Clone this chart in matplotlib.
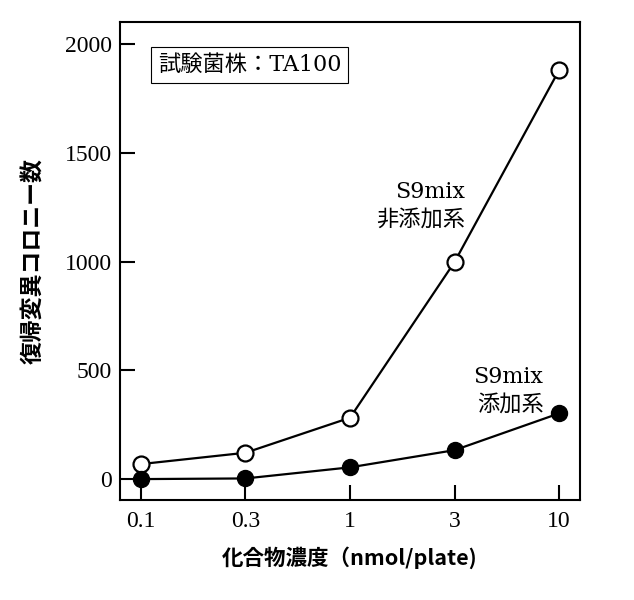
import matplotlib
matplotlib.use("Agg")
import matplotlib.pyplot as plt

# データ
concentrations = ["0.1", "0.3", "1", "3", "10"]
without_s9 = [69, 121, 282, 998, 1880]
with_s9 = [0, 3, 54, 133, 302]
yticks = [0, 500, 1000, 1500, 2000]

serif = ["Liberation Serif", "Noto Sans CJK JP"]
wide_serif = ["DejaVu Serif", "Noto Sans CJK JP"]
gothic = ["Noto Sans CJK JP", "DejaVu Sans"]

fig = plt.figure(figsize=(6.34, 6.0), dpi=100)
ax = fig.add_axes([0.1893, 0.1667, 0.7256, 0.7967])

x = range(len(concentrations))
ax.plot(x, without_s9, color="black", lw=1.6, marker="o", ms=11.5,
        mfc="white", mec="black", mew=1.6, zorder=3)
ax.plot(x, with_s9, color="black", lw=1.6, marker="o", ms=11.5,
        mfc="black", mec="black", zorder=3)

ax.set_xlim(-0.2, 4.2)
ax.set_ylim(-96, 2101)
ax.set_xticks(list(x))
ax.set_xticklabels(concentrations, family=serif, fontsize=17)
ax.set_yticks(yticks)
ax.set_yticklabels([str(v) for v in yticks], family=serif, fontsize=17)
ax.tick_params(direction="in", length=11, width=1.5, top=False, right=False)
ax.tick_params(axis="x", pad=8)
ax.tick_params(axis="y", pad=6)
for s in ax.spines.values():
    s.set_linewidth(1.5)

ax.set_xlabel("化合物濃度（nmol/plate)", family=gothic, fontsize=15.5,
              fontweight="bold", labelpad=10)
ax.set_ylabel("復帰変異コロニー数", family=gothic, fontsize=16.5,
              fontweight="bold", labelpad=14)

ax.text(0.082, 0.91, "試験菌株：TA100", transform=ax.transAxes,
        family=wide_serif, fontsize=16, va="center", ha="left",
        bbox=dict(boxstyle="square,pad=0.3", fc="white", ec="black", lw=0.8))
ax.text(3.1, 1255, "S9mix\n非添加系", family=wide_serif, fontsize=16,
        ha="right", va="center", linespacing=1.35)
ax.text(3.85, 405, "S9mix\n添加系", family=wide_serif, fontsize=16,
        ha="right", va="center", linespacing=1.35)

fig.savefig("out.png", dpi=100)
